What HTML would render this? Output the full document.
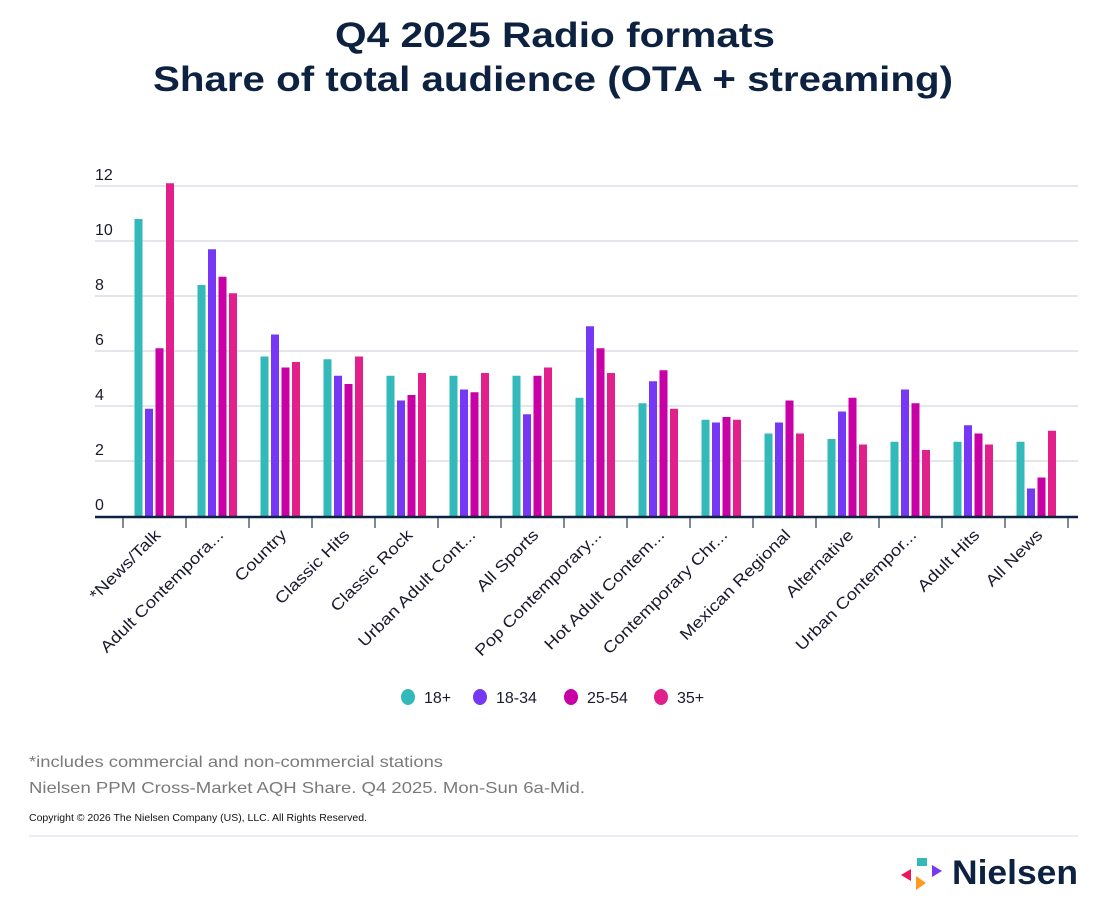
<!DOCTYPE html>
<html><head><meta charset="utf-8"><style>
html,body{margin:0;padding:0;background:#fff;}
svg{display:block;font-family:"Liberation Sans",sans-serif;}
</style></head><body>
<svg id="chart" width="1106" height="908" viewBox="0 0 1106 908">
<text x="335" y="47" textLength="440" lengthAdjust="spacingAndGlyphs" font-size="35" font-weight="bold" fill="#0d2240">Q4 2025 Radio formats</text>
<text x="153" y="91" textLength="800" lengthAdjust="spacingAndGlyphs" font-size="35" font-weight="bold" fill="#0d2240">Share of total audience (OTA + streaming)</text>
<g id="grid"></g>
<g id="yticks"></g>
<g id="bars"></g>
<g id="xaxis"></g>
<g id="legend"></g>
<text x="29" y="767" textLength="414" lengthAdjust="spacingAndGlyphs" font-size="16" fill="#7a7a7a">*includes commercial and non-commercial stations</text>
<text x="29" y="793" textLength="556" lengthAdjust="spacingAndGlyphs" font-size="16" fill="#7a7a7a">Nielsen PPM Cross-Market AQH Share. Q4 2025. Mon-Sun 6a-Mid.</text>
<text x="29" y="821" textLength="338" lengthAdjust="spacingAndGlyphs" font-size="10" fill="#111">Copyright © 2026 The Nielsen Company (US), LLC. All Rights Reserved.</text>
<line x1="29" y1="836" x2="1078" y2="836" stroke="#e6e6ee" stroke-width="1.5"/>
<g>
<polygon points="901,875 911,869 911,881" fill="#e8185a"/>
<polygon points="917,858 927,858 927,866 917,866" fill="#33b9b9" transform="rotate(0)"/>
<polygon points="932,865 942,871 932,877" fill="#7638f5"/>
<polygon points="916,876 926,883 916,890" fill="#ff9a1f"/>
<text x="952" y="884" textLength="126" lengthAdjust="spacingAndGlyphs" font-size="34" font-weight="bold" fill="#0d2240">Nielsen</text>
</g>
</svg>
<script>
const categories = ["*News/Talk","Adult Contempora...","Country","Classic Hits","Classic Rock","Urban Adult Cont...","All Sports","Pop Contemporary...","Hot Adult Contem...","Contemporary Chr...","Mexican Regional","Alternative","Urban Contempor...","Adult Hits","All News"];
const seriesNames = ["18+","18-34","25-54","35+"];
const s18plus = [10.8,8.4,5.8,5.7,5.1,5.1,5.1,4.3,4.1,3.5,3.0,2.8,2.7,2.7,2.7];
const s18to34 = [3.9,9.7,6.6,5.1,4.2,4.6,3.7,6.9,4.9,3.4,3.4,3.8,4.6,3.3,1.0];
const s25to54 = [6.1,8.7,5.4,4.8,4.4,4.5,5.1,6.1,5.3,3.6,4.2,4.3,4.1,3.0,1.4];
const s35plus = [12.1,8.1,5.6,5.8,5.2,5.2,5.4,5.2,3.9,3.5,3.0,2.6,2.4,2.6,3.1];
const yTicks = [0,2,4,6,8,10,12];

const NS="http://www.w3.org/2000/svg";
const colors=["#33b9b9","#7638f5","#c800a5","#e2208c"];
const series=[s18plus,s18to34,s25to54,s35plus];
const x0=123, band=63, yBase=516, pxPerUnit=27.5;
const yScale=v=>yBase-v*pxPerUnit;
const xBand=i=>x0+i*band;
function mk(tag,attrs,parent){const e=document.createElementNS(NS,tag);for(const k in attrs)e.setAttribute(k,attrs[k]);parent.appendChild(e);return e;}
const grid=document.getElementById('grid'), yt=document.getElementById('yticks');
yTicks.forEach(t=>{
  const y=yScale(t);
  if(t>0){const l=mk('line',{x1:95,x2:1078,y1:y,y2:y,stroke:'#d3d7e0','stroke-width':1.2},grid);
  
  }
  const tx=mk('text',{x:95,y:y-6,'font-size':16,fill:'#1a1a2e'},yt);
  tx.textContent=t;
  
  
});
const bars=document.getElementById('bars');
const bw=8, step=10.5;
categories.forEach((c,i)=>{
  const cx=xBand(i)+band/2;
  series.forEach((s,j)=>{
    const v=s[i];
    const x=cx-21+j*step+1;
    const r=mk('rect',{x:x,y:yScale(v),width:bw,height:v*pxPerUnit,fill:colors[j]},bars);
    
    
  });
});
const xa=document.getElementById('xaxis');
const axl=mk('line',{x1:95,x2:1078,y1:yBase+1,y2:yBase+1,stroke:'#0b2340','stroke-width':2.5},xa);


for(let i=0;i<=categories.length;i++){
  const t=mk('line',{x1:xBand(i),x2:xBand(i),y1:yBase+2,y2:yBase+12,stroke:'#3a4a5e','stroke-width':1.3},xa);
  
  
}
categories.forEach((c,i)=>{
  const ax=xBand(i)+band/2+7, ay=536;
  const t=mk('text',{x:ax,y:ay,'text-anchor':'end','font-size':16,fill:'#1a1a2e',transform:`rotate(-45 ${ax} ${ay}) translate(${ax} ${ay}) scale(1.17 1) translate(${-ax} ${-ay})`},xa);
  t.textContent=c;
  
  
});
const lg=document.getElementById('legend');
const lx=[408,480,571,661];
seriesNames.forEach((n,j)=>{
  const ci=mk('ellipse',{cx:lx[j],cy:697,rx:7,ry:8,fill:colors[j]},lg);
  
  
  const t=mk('text',{x:lx[j]+16,y:703,'font-size':16,fill:'#1a1a2e'},lg);
  t.textContent=n;
  
  
});
</script>
</body></html>
